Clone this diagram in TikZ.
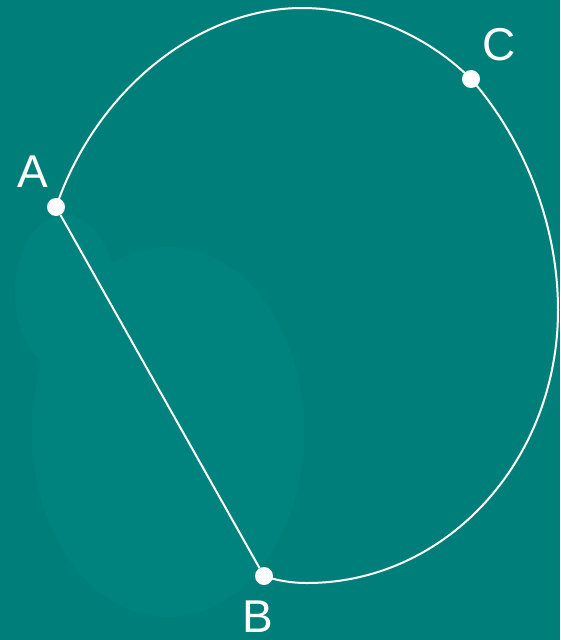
\documentclass[tikz,border=0pt]{standalone}
\usepackage{fontspec}
\setmainfont{Liberation Sans}
\usetikzlibrary{positioning}
\definecolor{bgteal}{HTML}{007F7A}
\definecolor{blobteal}{HTML}{00837E}
\tikzset{
  pt/.style={circle, fill=white, inner sep=0pt, minimum size=18pt},
  ptname/.style={text=white, font=\fontsize{46}{48}\selectfont, inner sep=0pt},
  curve/.style={white, line width=2pt}
}

\begin{document}
\begin{tikzpicture}[x=1pt, y=-1pt]
  % background and the faint blobs behind the chord
  \fill[bgteal] (0,0) rectangle (560,640);
  \useasboundingbox (0,0) rectangle (560,640);
  \fill[blobteal] (65,293) ellipse [x radius=50, y radius=78];
  \fill[blobteal] (168,432) ellipse [x radius=136, y radius=185];
  % where the points sit
  \coordinate (a) at (56,207);
  \coordinate (b) at (264,576);
  \coordinate (c) at (471,79);
  % arc A -> C -> B and the chord
  \draw[curve] (a) .. controls (97,88) and (200,8) .. (302,8)
    .. controls (362,8) and (426,34) .. (c)
    .. controls (521,136) and (558,220) .. (558,310)
    .. controls (558,461) and (446,583) .. (307,583)
    .. controls (290,583) and (275,580) .. (b);
  \node[pt] (A) at (a) {};
  \node[pt] (B) at (b) {};
  \node[pt] (C) at (c) {};
  \draw[curve] (A) -- (B);
  % names
  \node[ptname] (labA) at (33,172) {A};
  \node[ptname] (labB) at (258,617) {B};
  \node[ptname] (labC) at (499,45) {C};
\end{tikzpicture}
\end{document}
